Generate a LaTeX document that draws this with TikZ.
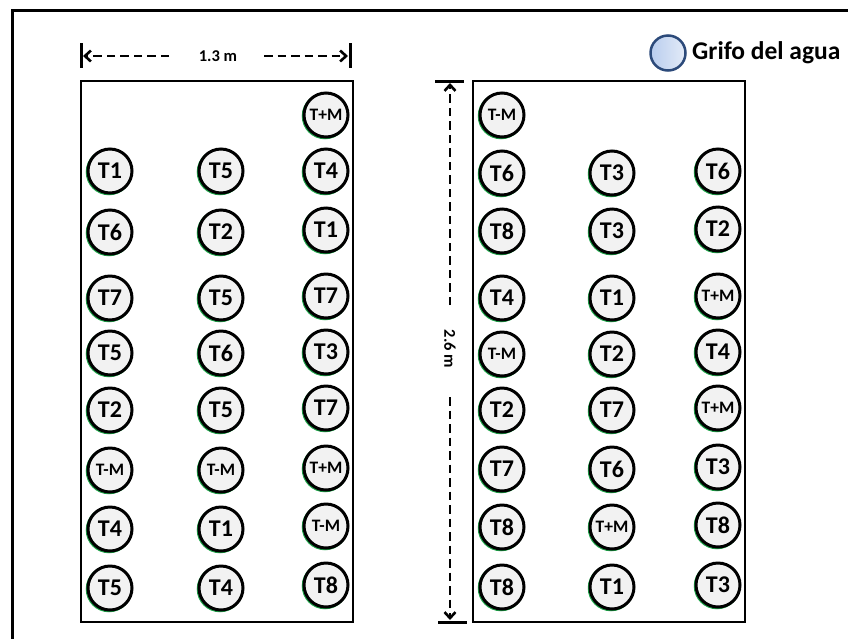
\documentclass[tikz,border=0pt]{standalone}
\usepackage{fontspec}
\setmainfont{Carlito}
\usetikzlibrary{arrows.meta}
\definecolor{plantfill}{HTML}{F2F2F2}
\definecolor{shadowgreen}{HTML}{1FA34A}
\definecolor{tapborder}{HTML}{2C4A7A}
\definecolor{taplight}{HTML}{E3EBF8}
\definecolor{tapdark}{HTML}{B9CDEE}
\tikzset{
  plant/.style={circle, draw=black, line width=3pt, fill=plantfill, minimum size=44pt, inner sep=0pt,
    font=\fontsize{24}{24}\selectfont\bfseries},
  plantsm/.style={plant, font=\fontsize{17.5}{17.5}\selectfont\bfseries},
  plantshadow/.style={circle, draw=shadowgreen, line width=2.5pt, minimum size=44pt, inner sep=0pt},
  bed/.style={draw=black, line width=2.8pt},
  dimline/.style={dash pattern=on 8.5pt off 5pt, line width=2.6pt, -{Straight Barb[length=6pt,width=11pt,line width=2.6pt]}},
  dimbar/.style={line width=3pt},
  dimlabel/.style={font=\fontsize{16.5}{16.5}\selectfont\bfseries, inner sep=0pt}
}
% \plantat{name}{x}{y}{label}{style}
\newcommand{\plantat}[5]{%
  \node[plantshadow] at (#2-1,#3+1) {};
  \node[#5] (#1) at (#2,#3) {#4};%
}
\begin{document}
\begin{tikzpicture}[x=1pt,y=-1pt]
\useasboundingbox (0,0) rectangle (848,638);
% outer frame
\draw[line width=3pt] (12,660) -- (12,10) -- (870,10);
% beds
\draw[bed] (81,81) rectangle (353,622);
\draw[bed] (473,81) rectangle (745,622);
% horizontal dimension
\coordinate (hl) at (81,56);
\coordinate (hr) at (350,56);
\coordinate (hla) at (169,56);
\coordinate (hra) at (264,56);
\draw[dimbar] (81,43) -- (81,68);
\draw[dimbar] (350,43) -- (350,68);
\draw[dimline] (hla) -- ([xshift=2pt]hl);
\draw[dimline] (hra) -- ([xshift=-2pt]hr);
\node[dimlabel] (hlab) at (218,56) {1.3 m};
% vertical dimension
\coordinate (vt) at (450,81);
\coordinate (vb) at (450,622);
\coordinate (vta) at (450,305);
\coordinate (vba) at (450,397);
\draw[dimbar] (435,81) -- (464,81);
\draw[dimbar] (438,622) -- (467,622);
\draw[dimline] (vta) -- ([yshift=-2pt]vt);
\draw[dimline] (vba) -- ([yshift=2pt]vb);
\node[dimlabel, rotate=-90] (vlab) at (450,349) {2.6 m};
% legend
\node[circle, draw=tapborder, line width=2.5pt, left color=tapdark, right color=taplight, minimum size=35pt, inner sep=0pt] (tap) at (668,53) {};
\node[anchor=west, inner sep=0pt, font=\fontsize{25.5}{25.5}\selectfont\bfseries] (taplab) at (692,53) {Grifo del agua};
% left bed plants
\foreach \lab/\y/\st [count=\i] in {T1/171/plant,T6/232/plant,T7/298/plant,T5/353/plant,T2/410/plant,T-M/470/plantsm,T4/529/plant,T5/588/plant}{
  \plantat{L1-\i}{110}{\y}{\lab}{\st}
}
\foreach \lab/\y/\st [count=\i] in {T5/171/plant,T2/232/plant,T5/298/plant,T6/353/plant,T5/410/plant,T-M/470/plantsm,T1/529/plant,T4/588/plant}{
  \plantat{L2-\i}{221}{\y}{\lab}{\st}
}
\foreach \lab/\y/\st [count=\i] in {T+M/115/plantsm,T4/171/plant,T1/230/plant,T7/296/plant,T3/352/plant,T7/408/plant,T+M/468/plantsm,T-M/526/plantsm,T8/585/plant}{
  \plantat{L3-\i}{326}{\y}{\lab}{\st}
}
% right bed plants
\foreach \lab/\y/\st [count=\i] in {T-M/115/plantsm,T6/173/plant,T8/231/plant,T4/298/plant,T-M/354/plantsm,T2/410/plant,T7/469/plant,T8/527/plant,T8/587/plant}{
  \plantat{R1-\i}{502}{\y}{\lab}{\st}
}
\foreach \lab/\y/\st [count=\i] in {T3/173/plant,T3/231/plant,T1/298/plant,T2/354/plant,T7/410/plant,T6/469/plant,T+M/527/plantsm,T1/587/plant}{
  \plantat{R2-\i}{612}{\y}{\lab}{\st}
}
\foreach \lab/\y/\st [count=\i] in {T6/171/plant,T2/229/plant,T+M/296/plantsm,T4/352/plant,T+M/408/plantsm,T3/467/plant,T8/525/plant,T3/585/plant}{
  \plantat{R3-\i}{718}{\y}{\lab}{\st}
}
\end{tikzpicture}
\end{document}
